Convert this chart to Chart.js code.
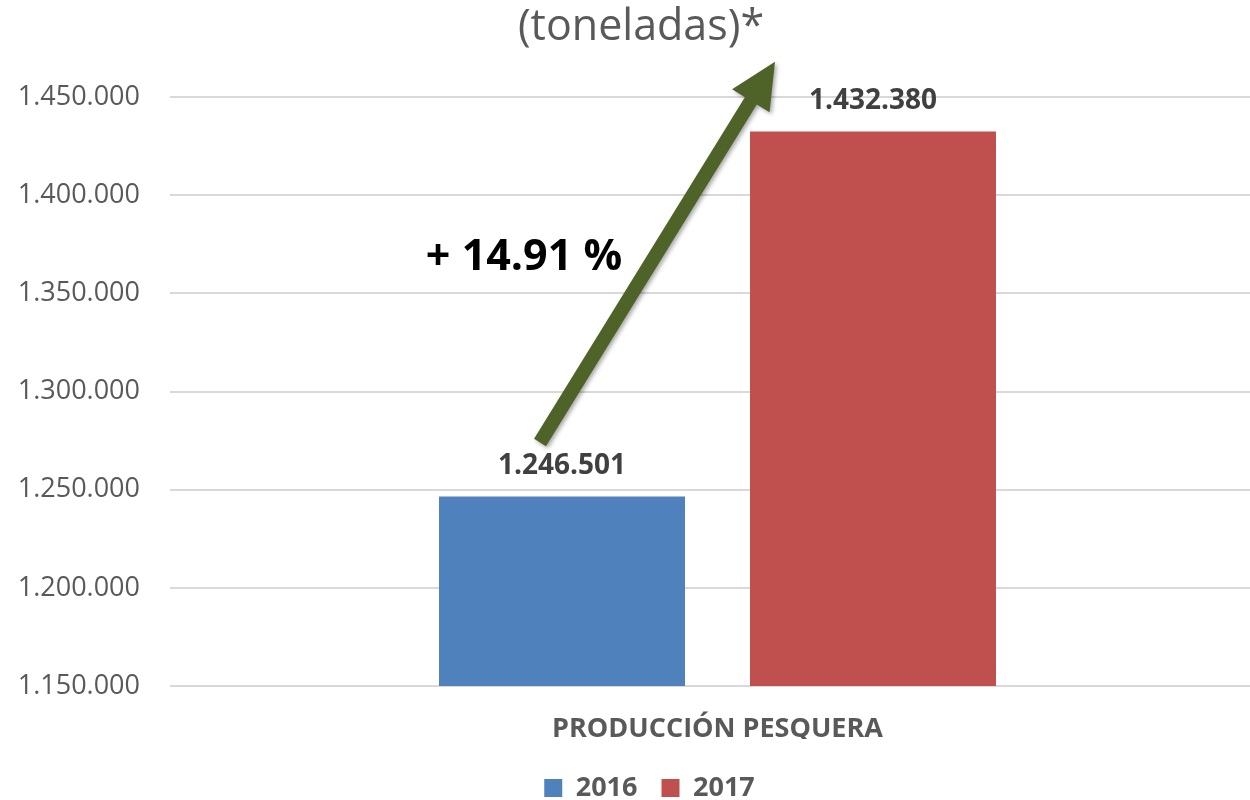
<!DOCTYPE html>
<html>
<head>
<meta charset="utf-8">
<script src="https://cdn.jsdelivr.net/npm/chart.js@4.4.1/dist/chart.umd.min.js"></script>
<style>
  html, body { margin: 0; padding: 0; background: #fff; overflow: hidden; }
  #wrap { width: 1250px; height: 800px; overflow: hidden; }
</style>
</head>
<body>
<div id="wrap"><canvas id="pescaChart" width="1265" height="800"></canvas></div>
<script>
// Producción pesquera 2016 vs 2017 (toneladas)
const categories = ['PRODUCCIÓN PESQUERA'];
const seriesNames = ['2016', '2017'];
const values2016 = [1246501];
const values2017 = [1432380];
const seriesColors = ['#4F81BD', '#C0504D'];
const yTicks = [1150000, 1200000, 1250000, 1300000, 1350000, 1400000, 1450000];
const growthLabel = '+ 14.91 %';
const titleText = '(toneladas)*';

function fmt(v) {
  return String(v).replace(/\B(?=(\d{3})+(?!\d))/g, '.');
}

// title text (partly cropped in the original) + legend nudge
const titlePlugin = {
  id: 'cutTitle',
  afterLayout(chart) {
    const lg = chart.legend;
    if (lg) {
      const dy = 750.5 - lg.top;
      lg.top += dy;
      lg.bottom += dy;
      lg.left += 17;
      lg.right += 17;
    }
  },
  afterDraw(chart) {
    const c = chart.ctx;
    c.save();
    c.font = '43px "Open Sans"';
    c.fillStyle = '#595959';
    c.textAlign = 'center';
    c.textBaseline = 'middle';
    c.fillText(titleText, 641, 28);
    c.restore();
  }
};

// value labels above each bar
const valueLabels = {
  id: 'valueLabels',
  afterDatasetsDraw(chart) {
    const c = chart.ctx;
    c.save();
    c.font = 'bold 28px "Open Sans"';
    c.fillStyle = '#404040';
    c.textAlign = 'center';
    c.textBaseline = 'middle';
    chart.data.datasets.forEach((ds, i) => {
      chart.getDatasetMeta(i).data.forEach((bar, j) => {
        c.fillText(fmt(ds.data[j]), bar.x, bar.y - 31);
      });
    });
    c.restore();
  }
};

// growth arrow from the 2016 bar toward the 2017 bar
const growthArrow = {
  id: 'growthArrow',
  afterDraw(chart) {
    const y = chart.scales.y;
    const b0 = chart.getDatasetMeta(0).data[0];
    const b1 = chart.getDatasetMeta(1).data[0];
    const x1 = b0.x - 22, y1 = y.getPixelForValue(1274000);
    const x2 = b1.x - 98, y2 = y.getPixelForValue(1468000);
    const dx = x2 - x1, dy = y2 - y1;
    const len = Math.hypot(dx, dy);
    const ux = dx / len, uy = dy / len;
    const px = -uy, py = ux;
    const head = 46, half = 22, shaft = 7;
    const bx = x2 - ux * head, by = y2 - uy * head;
    const c = chart.ctx;
    c.save();
    c.shadowColor = 'rgba(0,0,0,0.35)';
    c.shadowBlur = 4;
    c.shadowOffsetX = 2;
    c.shadowOffsetY = 2;
    c.fillStyle = '#4F6228';
    c.beginPath();
    c.moveTo(x1 + px * shaft, y1 + py * shaft);
    c.lineTo(bx + px * shaft, by + py * shaft);
    c.lineTo(bx + px * half, by + py * half);
    c.lineTo(x2, y2);
    c.lineTo(bx - px * half, by - py * half);
    c.lineTo(bx - px * shaft, by - py * shaft);
    c.lineTo(x1 - px * shaft, y1 - py * shaft);
    c.closePath();
    c.fill();
    c.restore();

    c.save();
    c.font = 'bold 43px "Open Sans"';
    c.fillStyle = '#000';
    c.textAlign = 'center';
    c.textBaseline = 'middle';
    c.fillText(growthLabel, b0.x - 38, y.getPixelForValue(1368000));
    c.restore();
  }
};

new Chart(document.getElementById('pescaChart'), {
  type: 'bar',
  data: {
    labels: categories,
    datasets: [
      { label: seriesNames[0], data: values2016, backgroundColor: seriesColors[0] },
      { label: seriesNames[1], data: values2017, backgroundColor: seriesColors[1] }
    ]
  },
  options: {
    responsive: false,
    animation: false,
    categoryPercentage: 0.568,
    barPercentage: 0.791,
    layout: { padding: { top: 97, right: 0, bottom: 0, left: 0 } },
    scales: {
      x: {
        grid: { display: false },
        border: { display: false },
        ticks: {
          color: '#595959',
          font: { family: 'Open Sans', size: 27, weight: 'bold' },
          padding: 19
        },
        afterFit(s) { s.height = 53; }
      },
      y: {
        min: yTicks[0],
        max: yTicks[yTicks.length - 1],
        afterBuildTicks(s) { s.ticks = yTicks.map(v => ({ value: v })); },
        grid: { color: '#d9d9d9', lineWidth: 2, drawTicks: false },
        border: { display: false },
        ticks: {
          color: '#595959',
          font: { family: 'Open Sans', size: 27 },
          padding: 30,
          callback: v => fmt(v)
        },
        afterFit(s) { s.width = 170; }
      }
    },
    plugins: {
      legend: {
        position: 'bottom',
        labels: {
          color: '#595959',
          font: { family: 'Open Sans', size: 27, weight: 'bold', lineHeight: 1 },
          boxWidth: 18,
          boxHeight: 18,
          padding: 24
        }
      },
      tooltip: { enabled: false }
    }
  },
  plugins: [titlePlugin, valueLabels, growthArrow]
});
</script>
</body>
</html>
